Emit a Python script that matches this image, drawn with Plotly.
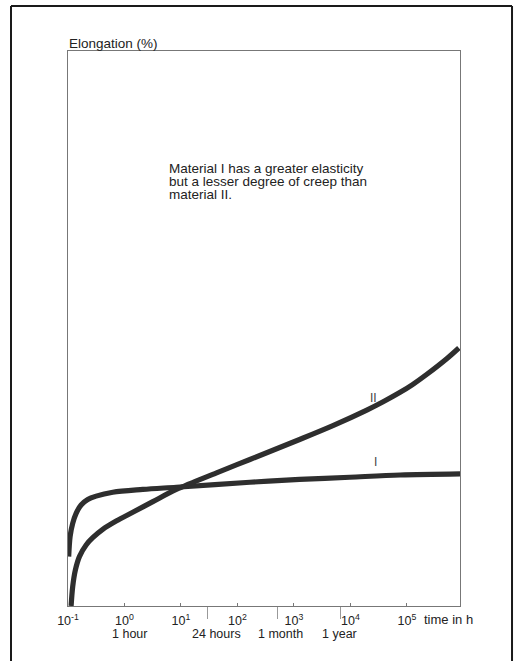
import numpy as np
import plotly.graph_objects as go

# ---- data ----
# Material I: time in hours, elongation (arbitrary %, 0-100 over the plot height)
time_I = [0.1028, 0.1089, 0.1211, 0.1393, 0.1706, 0.2234, 0.3148, 0.6209, 2.109,
          8.260, 166.0, 1259, 9772, 75858, 870964]
elong_I = [8.9, 12.5, 14.9, 16.7, 18.2, 19.2, 19.8, 20.5, 21.0,
           21.4, 22.3, 22.8, 23.2, 23.6, 23.8]

# Material II
time_II = [0.1135, 0.1211, 0.1352, 0.1592, 0.2094, 0.2742, 0.4121, 0.7129, 1.403,
           3.177, 8.260, 42.66, 166.0, 1259, 4898, 19498, 38019, 75858, 125893,
           229087, 512861, 831764]
elong_II = [0.0, 3.5, 6.5, 8.9, 11.0, 12.3, 13.8, 15.3, 16.9,
            18.8, 21.0, 24.0, 26.4, 30.0, 32.5, 35.3, 36.8, 38.5, 39.9,
            41.8, 44.6, 46.5]

decade_ticks = [0.1, 1, 10, 100, 1000, 10000, 100000]
decade_labels = ["10<sup>-1</sup>", "10<sup>0</sup>", "10<sup>1</sup>", "10<sup>2</sup>",
                 "10<sup>3</sup>", "10<sup>4</sup>", "10<sup>5</sup>"]
marker_hours = [29.5, 513, 6760]          # tick marks for 24 hours, 1 month, 1 year
period_labels = ["1 hour", "24 hours", "1 month", "1 year"]
period_hours = [1, 29.5, 513, 6760]

title_text = "Elongation (%)"
note_lines = ["Material I has a greater elasticity",
              "but a lesser degree of creep than",
              "material II."]
curve_names = ["I", "II"]

FONT = "Liberation Sans, Arial, sans-serif"
INK = "#222222"
CURVE = "#2e2e2e"

fig = go.Figure()
fig.add_trace(go.Scatter(x=time_I, y=elong_I, mode="lines", name=curve_names[0],
                         line=dict(color=CURVE, width=5.2, shape="spline", smoothing=0.9),
                         showlegend=False, hoverinfo="skip"))
fig.add_trace(go.Scatter(x=time_II, y=elong_II, mode="lines", name=curve_names[1],
                         line=dict(color=CURVE, width=5.2, shape="spline", smoothing=0.9),
                         showlegend=False, hoverinfo="skip"))

fig.update_layout(
    width=517, height=661,
    margin=dict(l=68, r=57, t=51, b=55),
    paper_bgcolor="white", plot_bgcolor="white",
    font=dict(family=FONT, size=12, color=INK),
    showlegend=False,
)
fig.update_xaxes(
    type="log", range=[-1, 5.94],
    tickmode="array", tickvals=decade_ticks, ticktext=decade_labels,
    ticks="inside", ticklen=3, tickcolor="#777", tickwidth=1,
    ticklabelstandoff=3,
    tickfont=dict(family=FONT, size=12.5, color=INK),
    showgrid=False, zeroline=False,
    showline=True, linecolor="#777", linewidth=1, mirror=True,
    minor=dict(tickmode="array", tickvals=marker_hours, ticks="outside",
               ticklen=12, tickcolor="#999", tickwidth=1, showgrid=False),
)
fig.update_yaxes(
    range=[0, 100], showticklabels=False, ticks="", showgrid=False,
    zeroline=False, showline=True, linecolor="#777", linewidth=1, mirror=True,
)

# title above the plot
fig.add_annotation(text=title_text, xref="paper", yref="paper", x=-0.003, y=1.0144,
                   xanchor="left", yanchor="middle", showarrow=False,
                   font=dict(size=13.5, color=INK))

# explanatory note (three lines, tight spacing)
for i, line in enumerate(note_lines):
    fig.add_annotation(text=line, xref="paper", yref="paper", x=0.253,
                       y=0.789 - i * 0.0236, xanchor="left", yanchor="middle",
                       showarrow=False, font=dict(size=13.5, color=INK))

# curve labels
fig.add_annotation(text=curve_names[1], x=4.415, y=37.5, showarrow=False,
                   font=dict(size=12, color="#444"))
fig.add_annotation(text=curve_names[0], x=4.45, y=25.9, showarrow=False,
                   font=dict(size=12, color="#444"))

# second row of period labels
shifts = [5, 9, 3, -1]
for lab, h, s in zip(period_labels, period_hours, shifts):
    fig.add_annotation(text=lab, x=np.log10(h), xref="x", yref="paper", y=-0.0505,
                       xanchor="center", yanchor="middle", xshift=s, showarrow=False,
                       font=dict(size=12.5, color=INK))

# axis unit label
fig.add_annotation(text="time in h", x=5, xref="x", yref="paper", y=-0.0252,
                   xanchor="left", yanchor="middle", xshift=15, showarrow=False,
                   font=dict(size=13, color=INK))

# outer frame (left, top, right)
fx0, fx1, fy1, fy0 = -0.1454, 1.1327, 1.0811, -0.15
for (x0, y0, x1, y1) in [(fx0, fy0, fx0, fy1), (fx0, fy1, fx1, fy1), (fx1, fy1, fx1, fy0)]:
    fig.add_shape(type="line", xref="paper", yref="paper", x0=x0, y0=y0, x1=x1, y1=y1,
                  line=dict(color="#1a1a1a", width=2))

fig.write_html("out.html")
